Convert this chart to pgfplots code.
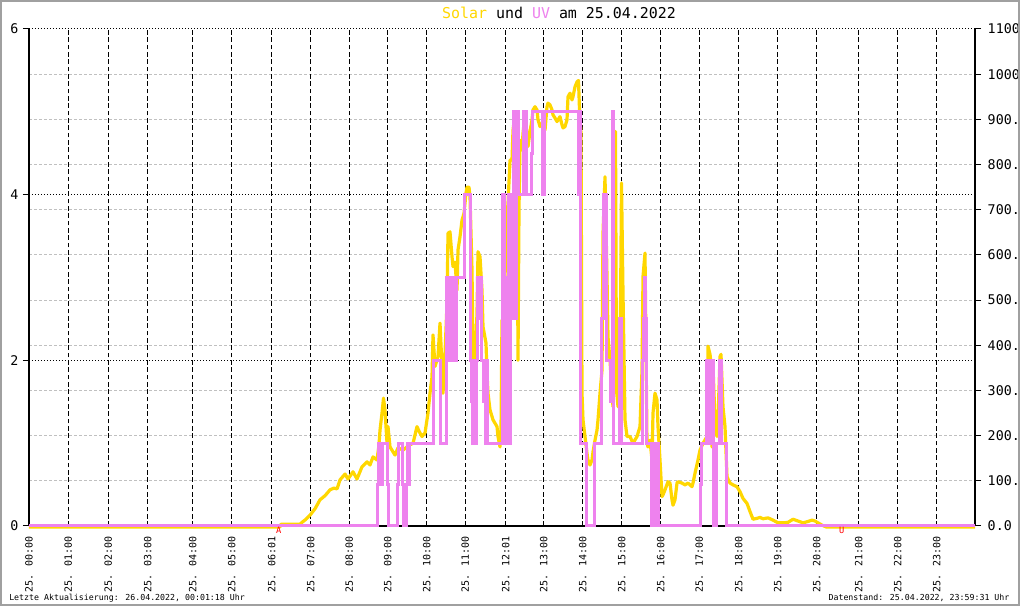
\documentclass[border=0pt]{standalone}
\usepackage{fontspec}
\setmainfont{DejaVu Sans Mono}
\setmonofont{DejaVu Sans Mono}
\usepackage{pgfplots}
\pgfplotsset{compat=1.18}
\definecolor{solar}{HTML}{FFD700}
\definecolor{uv}{HTML}{EE82EE}
\definecolor{gridgray}{HTML}{C0C0C0}
\definecolor{framegray}{HTML}{A0A0A0}
\pgfplotsset{base/.style={width=709.5pt,height=372.75pt,scale only axis,
  xmin=0,xmax=946,clip=false,at={(0,0)},anchor=south west,
  tick label style={font=\fontsize{10}{12}\selectfont},
  axis line style={black,line width=1.1pt}}}
\begin{document}
\begin{tikzpicture}
\path[use as bounding box] (-21.75pt,-60pt) rectangle (743.25pt,394.5pt);
\fill[white] (-21.75pt,-60pt) rectangle (743.25pt,394.5pt);
% right axis with grey grid
\begin{axis}[base, ymin=0, ymax=1100, axis x line=none, axis y line*=right,
  ytick={100,200,...,1000},
  yticklabels={100.0,200.0,300.0,400.0,500.0,600.0,700.0,800.0,900.0,1000.0},
  extra y ticks={0,1100}, extra y tick labels={0.0,1100.0},
  extra y tick style={grid=none},
  ymajorgrids, y grid style={gridgray, dash pattern=on 2.25pt off 1.5pt, line width=0.75pt},
  tick align=outside, major tick length=4.5pt,
  ytick style={black,line width=0.75pt},
  yticklabel style={anchor=west, xshift=1.5pt}]
\end{axis}
% left axis with black grids and time ticks
\begin{axis}[base, ymin=0, ymax=6, axis x line*=bottom, axis y line*=left,
  xtick={0,39.3,79.3,118.7,163.7,202.7,242.7,281.7,320.3,358.7,397.7,436.3,476.7,514.7,553.7,592.7,631.7,670.3,709.7,748.7,787.7,829.7,868.7,907.7},
  xticklabels={25. 00:00,25. 01:00,25. 02:00,25. 03:00,25. 04:00,25. 05:00,25. 06:01,25. 07:00,25. 08:00,25. 09:00,25. 10:00,25. 11:00,25. 12:01,25. 13:00,25. 14:00,25. 15:00,25. 16:00,25. 17:00,25. 18:00,25. 19:00,25. 20:00,25. 21:00,25. 22:00,25. 23:00},
  xticklabel style={rotate=90, anchor=east, font=\fontsize{7.5}{9}\selectfont},
  xtick style={draw=none},
  xmajorgrids, x grid style={black, dash pattern=on 3.5pt off 2pt, line width=0.75pt},
  ytick={0,2,4,6}, yticklabels={0,2,4,6},
  ymajorgrids, y grid style={black, dash pattern=on 0.75pt off 1.5pt, line width=0.75pt},
  tick align=outside, major tick length=4.5pt,
  ytick style={black,line width=0.75pt}]
\end{axis}
% solar radiation (W/m^2), right scale
\begin{axis}[base, ymin=0, ymax=1100, hide axis]
\addplot[solar, line width=2.4pt, line join=round] coordinates {
(0,-2)(251,-2)(252,4)(271,4)(273,8)(277,15)(281,24)(286,38)(291,58)(296,67)(301,80)(305,84)(308,82)(311,102)(316,115)(319,104)(324,120)(328,104)(333,131)(338,142)(341,135)(344,153)(348,146)(350,180)(351,212)(353,250)(354.5,283)(356,257)(357,220)(358,184)(359,220)(361,175)(366,157)(369,173)(374,168)(378,175)(381,180)(384,183)(388,220)(390,210)(393,198)(396,206)(399,250)(401,294)(403,330)(404,423)(406,353)(409,375)(411,449)(413,353)(414,294)(416,380)(418,493)(419,648)(421,651)(423,596)(424,574)(426,584)(428,522)(429,611)(431,640)(433,677)(435,692)(437,737)(438,750)(440,750)(441,729)(443,567)(444,382)(445,330)(446,353)(448,471)(449,607)(451,596)(453,522)(454,441)(457,405)(458,338)(459,294)(461,257)(464,235)(468,220)(469,198)(471,175)(472,212)(473,456)(474,257)(476,552)(478,685)(479,714)(481,810)(483,810)(484,876)(486,914)(488,857)(489,367)(490,700)(491,854)(493,832)(494,869)(496,914)(498,862)(499,840)(501,873)(503,899)(504,921)(506,928)(508,921)(509,899)(511,884)(513,891)(514,895)(516,876)(518,928)(519,936)(521,932)(523,921)(524,910)(526,903)(528,895)(529,899)(531,906)(533,888)(534,881)(536,884)(538,899)(539,950)(541,958)(543,943)(544,950)(546,972)(548,983)(549.5,986)(550.5,921)(552,870)(553,294)(554,235)(556,198)(558,161)(559,146)(561,135)(563,146)(564,164)(566,190)(568,212)(569,235)(571,294)(573,345)(574,648)(576,773)(578,552)(579,419)(581,367)(583,294)(584,264)(585.5,560)(586.5,873)(587.5,300)(589,264)(591,330)(592.5,759)(594,515)(596,235)(598,198)(601,198)(604,183)(608,198)(611,220)(613,345)(614,552)(616,604)(618,183)(619,175)(621,190)(623,146)(624,250)(626,294)(628,279)(629,220)(631,146)(633,65)(634,69)(636,80)(639,98)(641,95)(643,58)(644,46)(646,58)(648,95)(649,98)(653,95)(656,91)(659,95)(663,87)(664,95)(666,117)(669,146)(671,168)(674,183)(678,198)(679,398)(681,380)(682,361)(683,175)(684,353)(686,235)(688,198)(689,235)(691,375)(692,380)(694,264)(696,220)(698,109)(701,95)(704,91)(708,87)(711,76)(714,61)(718,50)(721,32)(724,15)(728,17)(731,19)(734,16)(739,18)(744,13)(749,7)(754,7)(759,8)(764,15)(769,11)(774,7)(779,10)(783,13)(786,11)(789,7)(793,2)(797,-2)(946,-2)
};
\end{axis}
% UV index, left scale
\begin{axis}[base, ymin=0, ymax=6, hide axis]
\addplot[uv, line width=2.25pt, const plot] coordinates {
(0,0)
(348,0.5)(349,1)(350,0.5)(351,1)(352,0.5)(353,1)
(358,0.5)(359,0)
(368.7,0.5)(369.5,1)
(373.7,0.5)(374.5,0)
(377.7,0.5)(378.5,1)(379.3,0.5)(380,1)
(404,1.5)(404.8,2)
(411,1.5)(411.7,1)
(417,2)(417.7,3)(418.7,2)(419.5,3)(422.5,2)(423.3,2.5)(424,3)(426,2)(427,3)
(435,4)
(441.7,2)(442.5,1.5)(443.3,1)(444,2)(444.7,1)(445.5,2)(446.3,1)(447,2)(448,3)(449,2.5)(450.5,3)(452,2.5)(452.7,2)(454,1.5)(455,2)(456,1)(457,2)(458,1)
(473,4)(475,1)(477.5,3)(478.2,1)(479.5,4)(481,1)(481.7,4)(483,2.5)(484,5)(486,2.5)(487,5)(489,4)
(494,5)(495,4.5)(496,5)(497.5,4)
(502.7,4.5)(503.3,5)
(513.5,4)(515,5)
(549,4.5)(549.7,4)(550.3,5)(551,4)(551.7,1)
(557,0.5)(557.7,0)
(565,0.5)(565.7,1)
(572.7,2.5)(574.5,4)(577.5,2)(581,1.5)(583.3,5)(584.7,1)(590.3,2.5)(592,1)
(613,2)(614,2.5)(615,3)(616,2.5)(617,1)
(622.7,0)(623.3,1)(624,0)(624.7,0.5)(625.3,0)(626.5,1)(627.3,0)(628,1)(629,0)
(671.5,0.5)(672.5,1)
(677.7,2)(678.3,1)(679,2)(679.7,1.5)(680.3,2)(681,1)(681.7,2)(682.5,1)(683.3,2)(684.3,0)(685.5,1)(686.7,0)(687.7,1)
(690,2)(690.7,1)(691.3,2)(692.7,1)
(697,0)
(946,0)
};
\end{axis}
% title, footer, markers
\node[font=\fontsize{11.2}{13}\selectfont] at (397.5pt,384.75pt)
  {\textcolor{solar}{Solar} und \textcolor{uv}{UV} am 25.04.2022};
\node[anchor=west, font=\fontsize{6.2}{7}\selectfont, inner sep=0pt] at (-15pt,-54pt)
  {Letzte Aktualisierung: 26.04.2022, 00:01:18 Uhr};
\node[anchor=east, font=\fontsize{6.2}{7}\selectfont, inner sep=0pt] at (735.5pt,-54pt)
  {Datenstand: 25.04.2022, 23:59:31 Uhr};
\node[red, font=\fontsize{6.5}{7}\selectfont, inner sep=0pt] at (187.3pt,-3.6pt) {A};
\node[red, font=\fontsize{6.5}{7}\selectfont, inner sep=0pt] at (609.5pt,-3.4pt) {U};
\draw[framegray, line width=1.2pt] (-21.15pt,-59.4pt) rectangle (742.65pt,393.9pt);
\end{tikzpicture}
\end{document}
